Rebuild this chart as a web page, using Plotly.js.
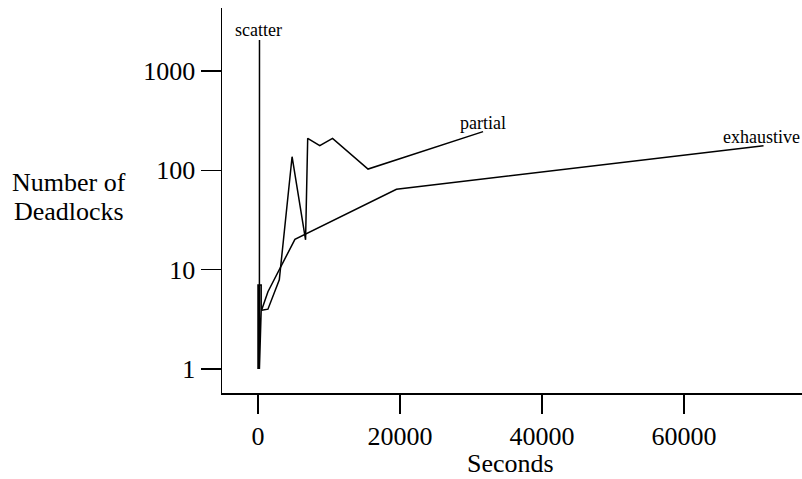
<!DOCTYPE html>
<html>
<head>
<meta charset="utf-8">
<script src="https://cdn.plot.ly/plotly-3.0.1.min.js"></script>
<style>
  html, body { margin: 0; padding: 0; background: #fff; }
  #chart { width: 802px; height: 479px; }
</style>
</head>
<body>
<div id="chart"></div>
<script>
// ---- data ----
const scatterX = [0, 0, 200, 200, 450, 450, 200, 210];
const scatterY = [1, 7, 7, 1, 3.9, 7, 7, 2050];

const partialX = [500, 1400, 3000, 4800, 6700, 7000, 8700, 10500, 15500, 31700];
const partialY = [3.9, 4, 7.9, 137, 20, 210, 177, 210, 103, 245];

const exhaustiveX = [500, 1400, 5200, 19500, 71200];
const exhaustiveY = [3.9, 6, 20.2, 64.5, 177];

const yTickVals = [1, 10, 100, 1000];
const yTickText = ['1', '10', '100', '1000'];
const xTickVals = [0, 20000, 40000, 60000];
const xTickText = ['0', '20000', '40000', '60000'];

const seriesLabels = [
  {text: 'scatter', x: 140, y: 2566},
  {text: 'partial', x: 31690, y: 299.5},
  {text: 'exhaustive', x: 70845, y: 216.5}
];

// ---- chart ----
const FONT = '"Times New Roman", "Liberation Serif", Times, serif';
const lineStyle = {color: '#000', width: 1.5};

const traces = [
  {x: scatterX, y: scatterY, mode: 'lines', line: lineStyle, name: 'scatter'},
  {x: partialX, y: partialY, mode: 'lines', line: lineStyle, name: 'partial'},
  {x: exhaustiveX, y: exhaustiveY, mode: 'lines', line: lineStyle, name: 'exhaustive'}
];

const annotations = seriesLabels.map(l => ({
  text: l.text, x: l.x, y: Math.log10(l.y), xref: 'x', yref: 'y',
  showarrow: false, xanchor: 'center', yanchor: 'middle',
  font: {family: FONT, size: 18, color: '#000'}
}));
annotations.push(
  {text: 'Number of', x: -0.2638, y: 0.5465, xref: 'paper', yref: 'paper',
   showarrow: false, xanchor: 'center', yanchor: 'middle',
   font: {family: FONT, size: 26, color: '#000'}},
  {text: 'Deadlocks', x: -0.2638, y: 0.4727, xref: 'paper', yref: 'paper',
   showarrow: false, xanchor: 'center', yanchor: 'middle',
   font: {family: FONT, size: 26, color: '#000'}},
  {text: 'Seconds', x: 0.498, y: -0.183, xref: 'paper', yref: 'paper',
   showarrow: false, xanchor: 'center', yanchor: 'middle',
   font: {family: FONT, size: 26, color: '#000'}}
);

const layout = {
  width: 802, height: 479,
  margin: {l: 222, r: 0, t: 8, b: 86, pad: 0},
  paper_bgcolor: '#fff', plot_bgcolor: '#fff',
  showlegend: false,
  font: {family: FONT, size: 26, color: '#000'},
  xaxis: {
    range: [-5070, 76620], showgrid: false, zeroline: false,
    showline: true, linecolor: '#000', linewidth: 1.5,
    ticks: 'outside', ticklen: 19, tickwidth: 1.5, tickcolor: '#000',
    tickmode: 'array', tickvals: xTickVals, ticktext: xTickText,
    tickfont: {family: FONT, size: 26, color: '#000'}
  },
  yaxis: {
    type: 'log', range: [-0.2416, 3.634], showgrid: false, zeroline: false,
    showline: true, linecolor: '#000', linewidth: 1.5,
    ticks: 'outside', ticklen: 20, tickwidth: 1.5, tickcolor: '#000',
    tickmode: 'array', tickvals: yTickVals, ticktext: yTickText,
    tickfont: {family: FONT, size: 26, color: '#000'}
  },
  annotations: annotations
};

Plotly.newPlot('chart', traces, layout, {staticPlot: true, displayModeBar: false});
</script>
</body>
</html>
